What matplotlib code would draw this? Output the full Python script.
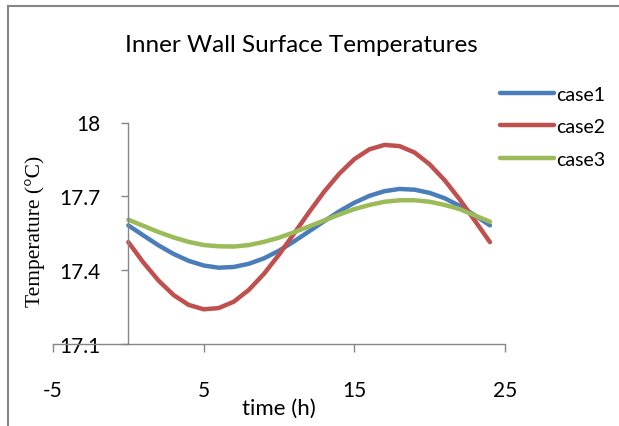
import matplotlib
matplotlib.use('Agg')
import matplotlib.pyplot as plt
from matplotlib.lines import Line2D

plt.rcParams['axes.unicode_minus'] = False

# hourly values
hours = list(range(0, 25))
case1 = [17.582, 17.541, 17.501, 17.466, 17.438, 17.419, 17.410, 17.413, 17.426,
         17.448, 17.479, 17.517, 17.558, 17.599, 17.639, 17.674, 17.702, 17.721,
         17.730, 17.727, 17.714, 17.692, 17.661, 17.623, 17.582]
case2 = [17.514, 17.431, 17.358, 17.299, 17.259, 17.241, 17.246, 17.272, 17.320,
         17.385, 17.463, 17.549, 17.636, 17.719, 17.792, 17.851, 17.891, 17.909,
         17.904, 17.878, 17.830, 17.765, 17.687, 17.601, 17.514]
case3 = [17.605, 17.580, 17.555, 17.533, 17.515, 17.502, 17.497, 17.496, 17.502,
         17.515, 17.532, 17.554, 17.578, 17.602, 17.626, 17.648, 17.665, 17.678,
         17.684, 17.684, 17.678, 17.665, 17.648, 17.622, 17.597]
names = ['case1', 'case2', 'case3']
colors = ['#4A7EBB', '#C0504D', '#9BBB59']
xticks = [-5, 5, 15, 25]
yticks = [17.1, 17.4, 17.7, 18]
ytick_labels = ['17.1', '17.4', '17.7', '18']

W, H = 619, 427
fig = plt.figure(figsize=(W / 100, H / 100), dpi=100)
ax = fig.add_axes([53 / W, 1 - 345 / H, (505 - 53) / W, (345 - 123.5) / H])

for s, n, c in zip([case1, case2, case3], names, colors):
    ax.plot(hours, s, color=c, lw=3.2, label=n, solid_capstyle='round', solid_joinstyle='round')

ax.set_xlim(-5, 25)
ax.set_ylim(17.1, 18)
ax.set_xticks(xticks)
ax.set_yticks(yticks)
ax.set_yticklabels(ytick_labels)

gray = '#868686'
for side in ['top', 'right']:
    ax.spines[side].set_visible(False)
ax.spines['left'].set_position(('data', 0))
for side in ['left', 'bottom']:
    ax.spines[side].set_color(gray)
    ax.spines[side].set_linewidth(1.0)

ax.tick_params(axis='x', direction='out', length=6, width=1, color=gray, pad=20)
ax.tick_params(axis='y', direction='out', length=5, width=1, color=gray, pad=15)
for lab in ax.get_xticklabels() + ax.get_yticklabels():
    lab.set_fontfamily('Lato')
    lab.set_fontsize(15)

fig.text(301 / W, 1 - 45 / H, 'Inner Wall Surface Temperatures', ha='center', va='center',
         family='Lato', fontsize=17.5)
fig.text(279 / W, 1 - 409 / H, 'time (h)', ha='center', va='center', family='Lato', fontsize=16)
fig.text(35 / W, 1 - 231 / H, 'Temperature (°C)', ha='center', va='center', rotation=90,
         family='Liberation Serif', fontsize=15.5)

ax.legend(loc='upper left', bbox_to_anchor=(500 / W, 1 - 86.5 / H), bbox_transform=fig.transFigure,
          frameon=False, borderpad=0, borderaxespad=0, handlelength=2.8, handletextpad=0.1,
          labelspacing=0.8, prop={'family': 'Lato', 'size': 14})

# outer chart frame (only left and top edges visible in the crop)
fig.add_artist(Line2D([7.5 / W, 7.5 / W], [0, 1 - 6.5 / H], transform=fig.transFigure, color=gray, lw=1.5))
fig.add_artist(Line2D([7.5 / W, 1], [1 - 6.5 / H, 1 - 6.5 / H], transform=fig.transFigure, color=gray, lw=1.5))

fig.savefig('out.png', dpi=100)
